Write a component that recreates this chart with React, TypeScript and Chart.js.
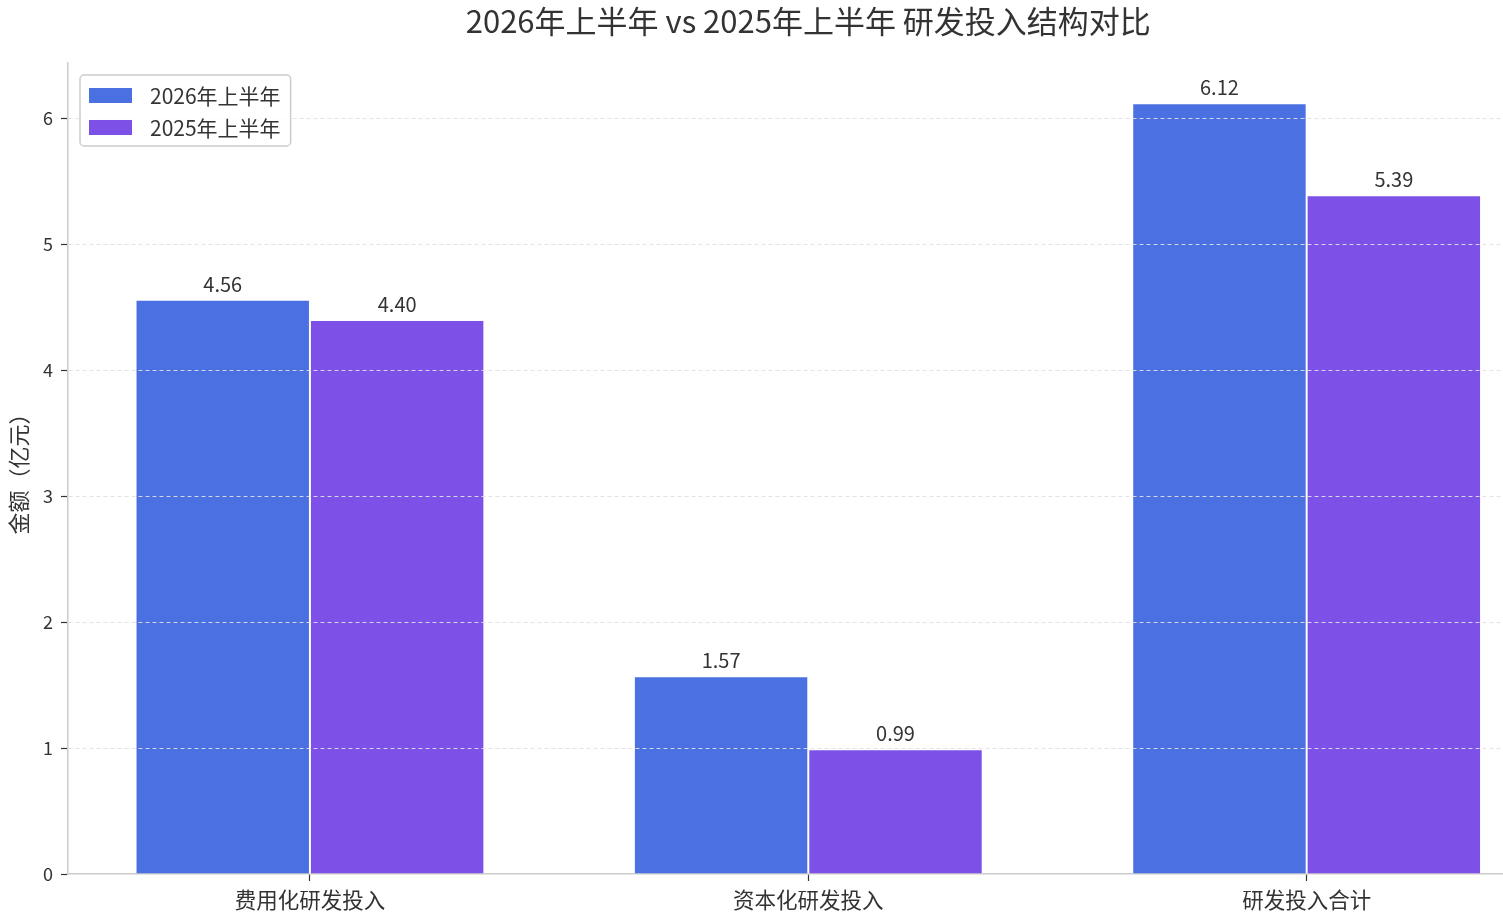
import { useEffect, useRef } from 'react';
import { Chart, registerables } from 'chart.js';

Chart.register(...registerables);

// values in 亿元
const categories = ['费用化研发投入', '资本化研发投入', '研发投入合计'];
const seriesLabels = ['2026年上半年', '2025年上半年'];
const h1_2026 = [4.56, 1.57, 6.12];
const h1_2025 = [4.4, 0.99, 5.39];
const yTicks = [0, 1, 2, 3, 4, 5, 6];

const TITLE = '2026年上半年 vs 2025年上半年 研发投入结构对比';
const FONT = "'Noto Sans CJK SC', 'Noto Sans', sans-serif";
const TEXT = '#333333';
const BLUE = '#4A70E2';
const PURPLE = '#7D50E7';

const titlePlugin = {
  id: 'figTitle',
  afterDraw(chart: any) {
    const { ctx } = chart;
    ctx.save();
    ctx.font = `31px ${FONT}`;
    ctx.fillStyle = TEXT;
    ctx.textAlign = 'center';
    ctx.textBaseline = 'middle';
    // centred over the axes (middle category sits at the axes centre)
    ctx.fillText(TITLE, chart.scales.x.getPixelForValue(1), 21);
    ctx.restore();
  },
};

const valueLabels = {
  id: 'valueLabels',
  afterDraw(chart: any) {
    const { ctx } = chart;
    ctx.save();
    ctx.font = `20px ${FONT}`;
    ctx.fillStyle = TEXT;
    ctx.textAlign = 'center';
    ctx.textBaseline = 'alphabetic';
    chart.data.datasets.forEach((ds: any, i: number) => {
      const meta = chart.getDatasetMeta(i);
      meta.data.forEach((bar: any, j: number) => {
        ctx.fillText(ds.data[j].y.toFixed(2), bar.x, bar.y - 8);
      });
    });
    ctx.restore();
  },
};

const boxLegend = {
  id: 'boxLegend',
  afterDraw(chart: any) {
    const { ctx, chartArea } = chart;
    const x0 = chartArea.left + 12;
    const y0 = chartArea.top + 12;
    ctx.save();
    ctx.font = `21px ${FONT}`;
    const tw = Math.max(...seriesLabels.map((t) => ctx.measureText(t).width));
    const w = 9 + 43 + 18 + tw + 10;
    const h = 71;
    ctx.beginPath();
    ctx.roundRect(x0, y0, w, h, 4);
    ctx.fillStyle = 'rgba(255,255,255,0.85)';
    ctx.fill();
    ctx.strokeStyle = '#cccccc';
    ctx.lineWidth = 1.5;
    ctx.stroke();
    chart.data.datasets.forEach((ds: any, i: number) => {
      const cy = y0 + 20 + i * 32;
      ctx.fillStyle = ds.backgroundColor;
      ctx.fillRect(x0 + 9, cy - 7, 43, 15);
      ctx.fillStyle = TEXT;
      ctx.textAlign = 'left';
      ctx.textBaseline = 'middle';
      ctx.fillText(ds.label, x0 + 70, cy + 1);
    });
    ctx.restore();
  },
};

const RdCompareChart = () => {
  const canvasRef = useRef<HTMLCanvasElement>(null);

  useEffect(() => {
    if (!canvasRef.current) return;
    Chart.defaults.font.family = FONT;

    const chart = new Chart(canvasRef.current, {
      type: 'bar',
      data: {
        datasets: [
          {
            label: seriesLabels[0],
            data: h1_2026.map((y, i) => ({ x: i, y })),
            backgroundColor: BLUE,
            borderColor: 'rgba(255,255,255,0.85)',
            borderWidth: 1,
          },
          {
            label: seriesLabels[1],
            data: h1_2025.map((y, i) => ({ x: i, y })),
            backgroundColor: PURPLE,
            borderColor: 'rgba(255,255,255,0.85)',
            borderWidth: 1,
          },
        ],
      },
      options: {
        responsive: true,
        maintainAspectRatio: false,
        animation: false,
        layout: { padding: { top: 63, right: 0, bottom: 0, left: 0 } },
        datasets: { bar: { categoryPercentage: 0.7, barPercentage: 1 } },
        plugins: {
          legend: { display: false },
          tooltip: { enabled: false },
          title: { display: false },
        },
        scales: {
          x: {
            type: 'linear',
            min: -0.4855,
            max: 2.394,
            offset: false,
            afterBuildTicks: (s: any) => {
              s.ticks = categories.map((_, i) => ({ value: i }));
            },
            afterFit: (s: any) => {
              s.height = 46;
            },
            ticks: {
              callback: (v: any) => categories[v] ?? '',
              font: { size: 21.5 },
              color: TEXT,
              padding: 6,
              autoSkip: false,
              maxRotation: 0,
            },
            grid: {
              offset: false,
              drawOnChartArea: false,
              tickLength: 7,
              tickColor: '#333333',
              tickWidth: 1.2,
            },
            border: { color: '#cccccc', width: 1.5 },
          },
          y: {
            min: 0,
            max: 6.44,
            afterBuildTicks: (s: any) => {
              s.ticks = yTicks.map((v) => ({ value: v }));
            },
            afterFit: (s: any) => {
              s.width = 68;
            },
            ticks: {
              font: { size: 18 },
              color: TEXT,
              padding: 8,
            },
            grid: {
              z: 1,
              color: (c: any) => (c.tick && c.tick.value === 0 ? 'rgba(0,0,0,0)' : 'rgba(225,225,225,0.9)'),
              lineWidth: 1,
              tickLength: 7,
              tickColor: '#333333',
              tickWidth: 1.2,
              tickBorderDash: [],
            },
            // border has to share the grid's layer, it reads the position the grid computes
            border: { z: 1, color: '#cccccc', width: 1.5, dash: [4, 3] },
            title: {
              display: true,
              text: '金额（亿元）',
              font: { size: 22 },
              color: TEXT,
              padding: { top: 5, bottom: 0 },
            },
          },
        },
      },
      plugins: [titlePlugin, valueLabels, boxLegend],
    } as any);

    return () => {
      chart.destroy();
    };
  }, []);

  return (
    <div style={{ position: 'fixed', left: 0, top: 0, width: 1503, height: 920, background: '#fff' }}>
      <canvas ref={canvasRef}></canvas>
    </div>
  );
};

export default function App() {
  return <RdCompareChart />;
}
